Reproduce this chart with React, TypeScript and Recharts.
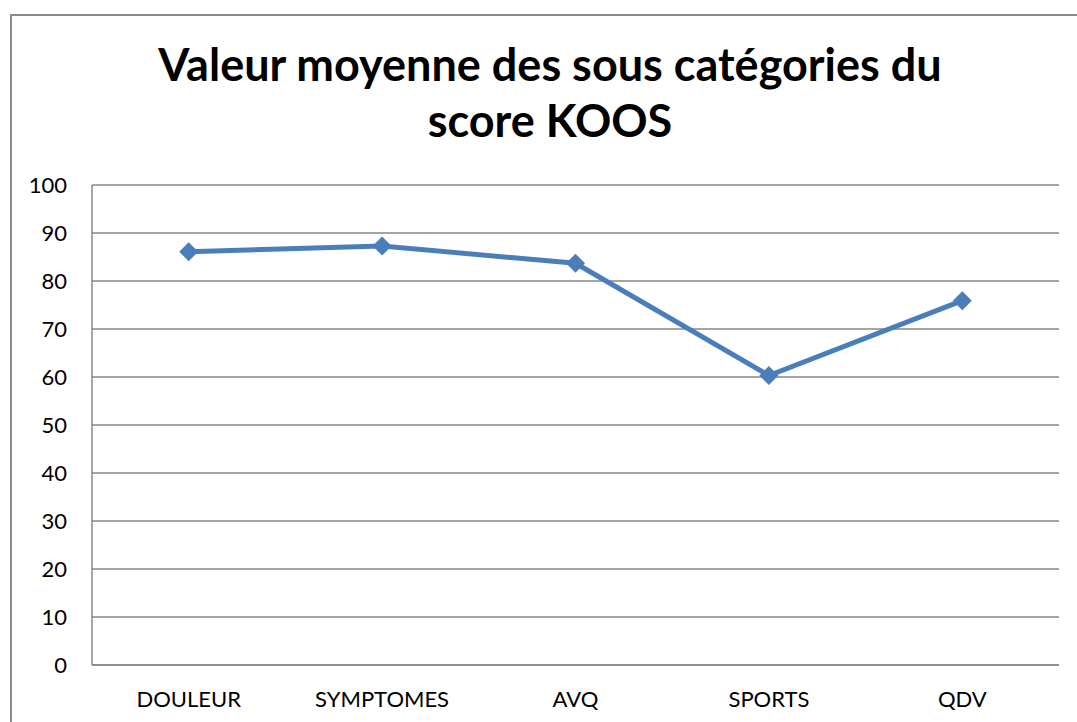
import { LineChart, Line, XAxis, YAxis, CartesianGrid } from "recharts";

const categories = ["DOULEUR", "SYMPTOMES", "AVQ", "SPORTS", "QDV"];
const scores = [86.1, 87.3, 83.7, 60.3, 75.9];
const yTicks = [0, 10, 20, 30, 40, 50, 60, 70, 80, 90, 100];

const data = categories.map((name, i) => ({ name, value: scores[i] }));

const LINE_COLOR = "#4a7ebb";
const GRID_COLOR = "#878787";
const FONT = "Lato, 'Open Sans', sans-serif";

const Diamond = (props: any) => {
  const { cx, cy, index } = props;
  if (cx == null || cy == null) return null;
  const r = 9.5;
  return (
    <polygon
      key={`d-${index}`}
      points={`${cx},${cy - r} ${cx + r},${cy} ${cx},${cy + r} ${cx - r},${cy}`}
      fill={LINE_COLOR}
      stroke="none"
    />
  );
};

export default function App() {
  return (
    <div
      style={{
        position: "fixed",
        left: 0,
        top: 0,
        width: 1077,
        height: 722,
        overflow: "hidden",
        background: "#fff",
        fontFamily: FONT,
      }}
    >
      <div
        style={{
          position: "absolute",
          left: 10,
          top: 14,
          width: 1200,
          height: 800,
          border: "2px solid #8a8a8a",
          boxSizing: "border-box",
        }}
      />
      <div
        style={{
          position: "absolute",
          left: 0,
          top: 36,
          width: 1100,
          textAlign: "center",
          fontWeight: 700,
          fontSize: 45,
          lineHeight: "56px",
          color: "#000",
        }}
      >
        Valeur moyenne des sous catégories du
        <br />
        score KOOS
      </div>
      <div style={{ position: "absolute", left: 0, top: 0 }}>
        <LineChart
          width={1077}
          height={722}
          data={data}
          margin={{ top: 185, right: 18, bottom: 17, left: 0 }}
        >
          <CartesianGrid horizontal vertical={false} stroke={GRID_COLOR} strokeWidth={1.5} />
          <XAxis
            dataKey="name"
            height={40}
            padding={{ left: 96.7, right: 96.7 }}
            tickLine={false}
            tickSize={0}
            tickMargin={26}
            axisLine={{ stroke: GRID_COLOR, strokeWidth: 1.5 }}
            tick={{ fill: "#000", fontSize: 22, fontFamily: FONT }}
            interval={0}
          />
          <YAxis
            width={92}
            domain={[0, 100]}
            ticks={yTicks}
            tickLine={false}
            tickSize={0}
            tickMargin={25}
            axisLine={{ stroke: GRID_COLOR, strokeWidth: 1.5 }}
            tick={{ fill: "#000", fontSize: 22, fontFamily: FONT }}
            interval={0}
          />
          <Line
            type="linear"
            dataKey="value"
            stroke={LINE_COLOR}
            strokeWidth={5}
            dot={Diamond}
            activeDot={false}
            isAnimationActive={false}
          />
        </LineChart>
      </div>
    </div>
  );
}
